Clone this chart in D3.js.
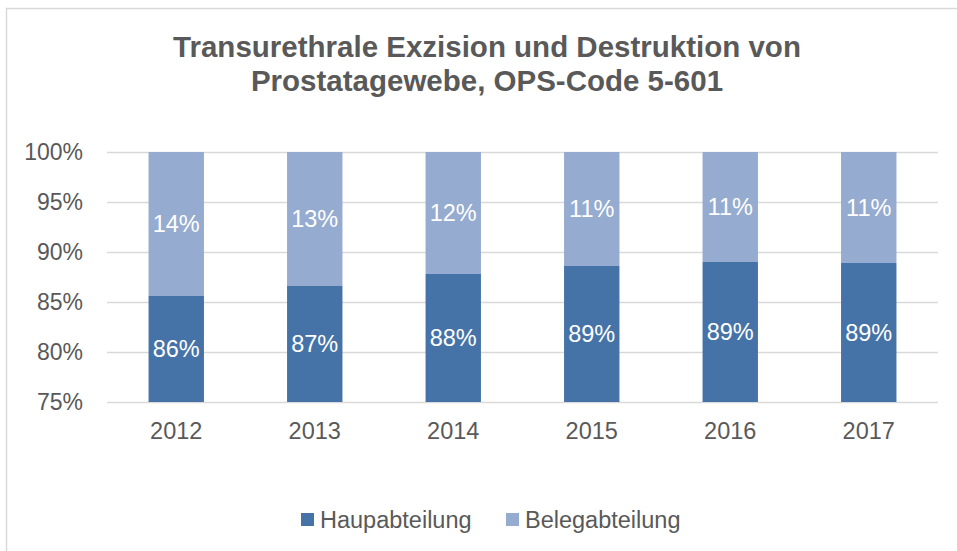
<!DOCTYPE html>
<html>
<head>
<meta charset="utf-8">
<script src="https://cdn.jsdelivr.net/npm/d3@7"></script>
<style>
  body { margin: 0; background: #fff; }
  svg text { font-family: "Liberation Sans", Arial, sans-serif; }
</style>
</head>
<body>
<div id="chart"></div>
<script>
// Daten (Anteile in %)
const years = ["2012", "2013", "2014", "2015", "2016", "2017"];
const haupt = [85.6, 86.6, 87.8, 88.6, 89.0, 88.9];
const beleg = [14.4, 13.4, 12.2, 11.4, 11.0, 11.1];
const yTicks = [75, 80, 85, 90, 95, 100];
const seriesNames = ["Haupabteilung", "Belegabteilung"];
const colors = ["#4673a7", "#95abd0"];
const titleLines = ["Transurethrale Exzision und Destruktion von", "Prostatagewebe, OPS-Code 5-601"];

const W = 957, H = 551;
const margin = { top: 152, right: 19, bottom: 149, left: 107 };
const width = W - margin.left - margin.right;
const height = H - margin.top - margin.bottom;
const fontSize = 23.5;

const svg = d3.select("#chart").append("svg")
    .attr("width", W)
    .attr("height", H);

// Rahmen
svg.append("rect")
    .attr("x", 6.5).attr("y", 8.5)
    .attr("width", W + 10).attr("height", H + 10)
    .attr("fill", "none")
    .attr("stroke", "#d9d9d9")
    .attr("stroke-width", 1.5);

// Titel
svg.append("text")
    .attr("text-anchor", "middle")
    .attr("fill", "#595959")
    .attr("font-size", 29.5)
    .attr("font-weight", "bold")
    .selectAll("tspan")
    .data(titleLines)
    .join("tspan")
    .attr("x", 487)
    .attr("y", (d, i) => 57 + i * 34)
    .text(d => d);

const g = svg.append("g")
    .attr("transform", `translate(${margin.left},${margin.top})`);

const x = d3.scaleBand()
    .domain(years)
    .range([0, width])
    .paddingInner(0.6)
    .paddingOuter(0.3);

const y = d3.scaleLinear()
    .domain([75, 100])
    .range([height, 0])
    .clamp(true);

// Gitterlinien + y-Achse
g.append("g")
    .call(d3.axisLeft(y).tickValues(yTicks).tickSize(-width).tickFormat(d => d + "%"))
    .call(a => a.select(".domain").remove())
    .call(a => a.selectAll(".tick line").attr("stroke", "#d9d9d9").attr("stroke-width", 1.5))
    .call(a => a.selectAll(".tick text")
        .attr("x", -24)
        .attr("fill", "#595959")
        .attr("font-size", fontSize - 0.5));

// Gestapelte Daten
const table = years.map((yr, i) => ({ year: yr, Haupabteilung: haupt[i], Belegabteilung: beleg[i] }));
const stacked = d3.stack().keys(seriesNames)(table);

const layers = g.selectAll(".layer")
    .data(stacked)
    .join("g")
    .attr("class", "layer")
    .attr("fill", (d, i) => colors[i]);

layers.selectAll("rect")
    .data(d => d)
    .join("rect")
    .attr("x", d => x(d.data.year))
    .attr("y", d => y(d[1]))
    .attr("width", x.bandwidth())
    .attr("height", d => y(d[0]) - y(d[1]));

// Beschriftungen
layers.selectAll("text")
    .data(d => d)
    .join("text")
    .attr("x", d => x(d.data.year) + x.bandwidth() / 2)
    .attr("y", d => (y(d[0]) + y(d[1])) / 2)
    .attr("dy", "0.36em")
    .attr("text-anchor", "middle")
    .attr("fill", "#ffffff")
    .attr("font-size", fontSize)
    .text(d => Math.round(d[1] - d[0]) + "%");

// x-Achse
g.append("g")
    .attr("transform", `translate(0,${height})`)
    .call(d3.axisBottom(x).tickSize(0).tickPadding(20))
    .call(a => a.select(".domain").remove())
    .call(a => a.selectAll(".tick text")
        .attr("fill", "#595959")
        .attr("font-size", fontSize));

// Legende
const legendX = [301, 506];
const legend = svg.append("g")
    .selectAll("g")
    .data(seriesNames)
    .join("g")
    .attr("transform", (d, i) => `translate(${legendX[i]},513)`);

legend.append("rect")
    .attr("width", 13).attr("height", 13)
    .attr("fill", (d, i) => colors[i]);

legend.append("text")
    .attr("x", 19)
    .attr("y", 6.5)
    .attr("dy", "0.36em")
    .attr("fill", "#595959")
    .attr("font-size", fontSize)
    .text(d => d);
</script>
</body>
</html>
